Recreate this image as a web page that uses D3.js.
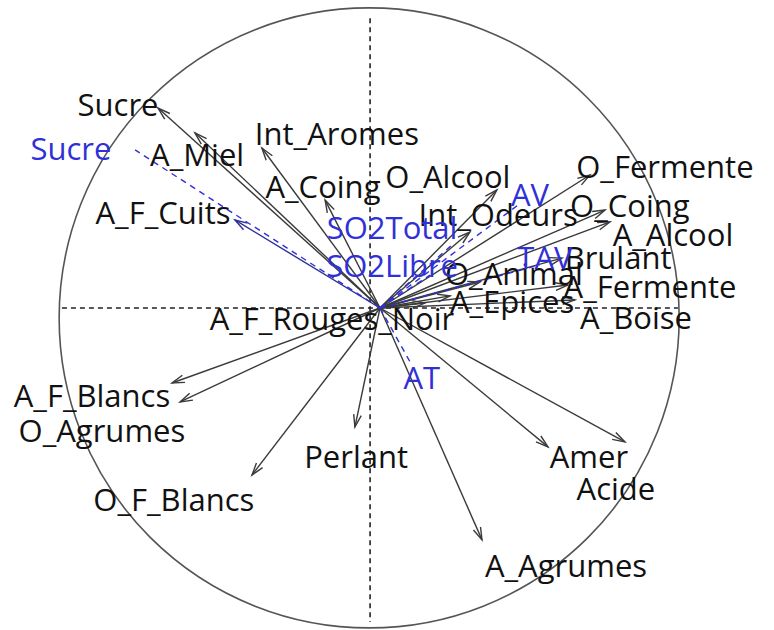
<!DOCTYPE html>
<html>
<head>
<meta charset="utf-8">
<script src="https://cdnjs.cloudflare.com/ajax/libs/d3/7.8.5/d3.min.js"></script>
<style>
  body { margin: 0; background: #fff; }
  svg { display: block; }
</style>
</head>
<body>
<div id="chart"></div>
<script>
// Correlation circle (PCA variables)

// active variables: arrow tips (correlations with dim 1 / dim 2)
const varNames = ["Sucre", "A_Miel", "Int_Aromes", "A_Coing", "A_F_Cuits",
  "O_Alcool", "O_Fermente", "Int_Odeurs", "O_Coing", "A_Alcool", "Brulant",
  "O_Animal", "A_Fermente", "A_Epices", "A_Boise", "A_F_Rouges_Noir",
  "A_F_Blancs", "O_Agrumes", "Perlant", "O_F_Blancs", "A_Agrumes", "Amer", "Acide"];
const varDim1 = [-0.716, -0.597, -0.381, -0.177, -0.468,
  0.377, 0.677, 0.290, 0.726, 0.742, 0.587,
  0.323, 0.606, 0.226, 0.629, 0.145,
  -0.671, -0.645, -0.081, -0.413, 0.329, 0.790, 0.542];
const varDim2 = [0.645, 0.565, 0.516, 0.348, 0.284,
  0.381, 0.429, 0.245, 0.316, 0.278, 0.161,
  0.084, 0.074, 0.039, 0.026, 0.016,
  -0.242, -0.303, -0.384, -0.539, -0.748, -0.432, -0.448];
// where the labels ended up (auto placed, same units)
const varLabX = [-0.845, -0.590, -0.139, -0.184, -0.700,
  0.219, 0.919, 0.381, 0.806, 0.945, 0.768,
  0.432, 0.871, 0.426, 0.826, -0.155,
  -0.929, -0.897, -0.077, -0.665, 0.600, 0.674, 0.761];
const varLabY = [0.658, 0.497, 0.565, 0.394, 0.310,
  0.426, 0.458, 0.303, 0.332, 0.239, 0.165,
  0.113, 0.071, 0.023, -0.029, -0.032,
  -0.281, -0.394, -0.477, -0.616, -0.829, -0.477, -0.581];

// supplementary variables (blue, dashed)
const supNames = ["Sucre", "AV", "SO2Total", "SO2Libre", "TAV", "AT"];
const supDim1 = [-0.790, 0.445, 0.232, 0.161, 0.516, 0.097];
const supDim2 = [0.510, 0.332, 0.203, 0.106, 0.139, -0.174];
const supLabX = [-0.997, 0.484, 0.039, 0.039, 0.532, 0.135];
const supLabY = [0.516, 0.368, 0.261, 0.139, 0.165, -0.223];

// the circle and the dashed axes are slightly off the arrow origin in the picture
const circleCenter = [-0.035, -0.032];
const vAxisX = -0.032;

const width = 774, height = 630;

const svg = d3.select("#chart")
  .append("svg")
  .attr("width", width)
  .attr("height", height);

const x = d3.scaleLinear().domain([-1, 1]).range([70, 690]);
const y = d3.scaleLinear().domain([-1, 1]).range([618, -2]);

const ink = "#3a3a3a";
const blue = "#3030d8";

// unit circle
svg.append("ellipse")
  .attr("cx", x(circleCenter[0]))
  .attr("cy", y(circleCenter[1]))
  .attr("rx", x(1) - x(0))
  .attr("ry", y(0) - y(1))
  .attr("fill", "none")
  .attr("stroke", "#555")
  .attr("stroke-width", 1.6);

// dashed axes
svg.append("line")
  .attr("x1", x(vAxisX)).attr("x2", x(vAxisX))
  .attr("y1", y(0.935)).attr("y2", y(-1.013))
  .attr("stroke", "#222").attr("stroke-width", 1.6)
  .attr("stroke-dasharray", "5,4");

svg.append("line")
  .attr("x1", x(-1.026)).attr("x2", x(0.961))
  .attr("y1", y(0)).attr("y2", y(0))
  .attr("stroke", "#222").attr("stroke-width", 1.4)
  .attr("stroke-dasharray", "5,4");

const active = varNames.map((n, i) => ({
  name: n, d1: varDim1[i], d2: varDim2[i], lx: varLabX[i], ly: varLabY[i]
}));
const supp = supNames.map((n, i) => ({
  name: n, d1: supDim1[i], d2: supDim2[i], lx: supLabX[i], ly: supLabY[i]
}));

// open V arrow head at the tip of a segment from the origin
function arrowHead(d, len, ang) {
  const x0 = x(0), y0 = y(0), x1 = x(d.d1), y1 = y(d.d2);
  const a = Math.atan2(y1 - y0, x1 - x0);
  const p1 = [x1 - len * Math.cos(a - ang), y1 - len * Math.sin(a - ang)];
  const p2 = [x1 - len * Math.cos(a + ang), y1 - len * Math.sin(a + ang)];
  return `M${p1[0]},${p1[1]}L${x1},${y1}L${p2[0]},${p2[1]}`;
}

const arrows = svg.append("g");

arrows.selectAll("line")
  .data(active)
  .enter().append("line")
  .attr("x1", x(0)).attr("y1", y(0))
  .attr("x2", d => x(d.d1))
  .attr("y2", d => y(d.d2))
  .attr("stroke", d => d.name === "A_F_Cuits" ? "#2e2e9a" : ink)
  .attr("stroke-width", 1.4);

arrows.selectAll("path")
  .data(active)
  .enter().append("path")
  .attr("d", d => arrowHead(d, 13, 0.3))
  .attr("fill", "none")
  .attr("stroke", d => d.name === "A_F_Cuits" ? "#2e2e9a" : ink)
  .attr("stroke-width", 1.4);

svg.append("g")
  .selectAll("line")
  .data(supp)
  .enter().append("line")
  .attr("x1", x(0)).attr("y1", y(0))
  .attr("x2", d => x(d.d1))
  .attr("y2", d => y(d.d2))
  .attr("stroke", blue)
  .attr("stroke-width", 1.4)
  .attr("stroke-dasharray", "6,5");

// labels
const font = "'Open Sans', 'DejaVu Sans', sans-serif";

svg.append("g")
  .selectAll("text")
  .data(active)
  .enter().append("text")
  .attr("x", d => x(d.lx))
  .attr("y", d => y(d.ly))
  .attr("text-anchor", "middle")
  .attr("dominant-baseline", "central")
  .style("font-family", font)
  .style("font-size", "31px")
  .style("fill", "#111")
  .text(d => d.name);

svg.append("g")
  .selectAll("text")
  .data(supp)
  .enter().append("text")
  .attr("x", d => x(d.lx))
  .attr("y", d => y(d.ly))
  .attr("text-anchor", "middle")
  .attr("dominant-baseline", "central")
  .style("font-family", font)
  .style("font-size", "31px")
  .style("fill", blue)
  .text(d => d.name);
</script>
</body>
</html>
